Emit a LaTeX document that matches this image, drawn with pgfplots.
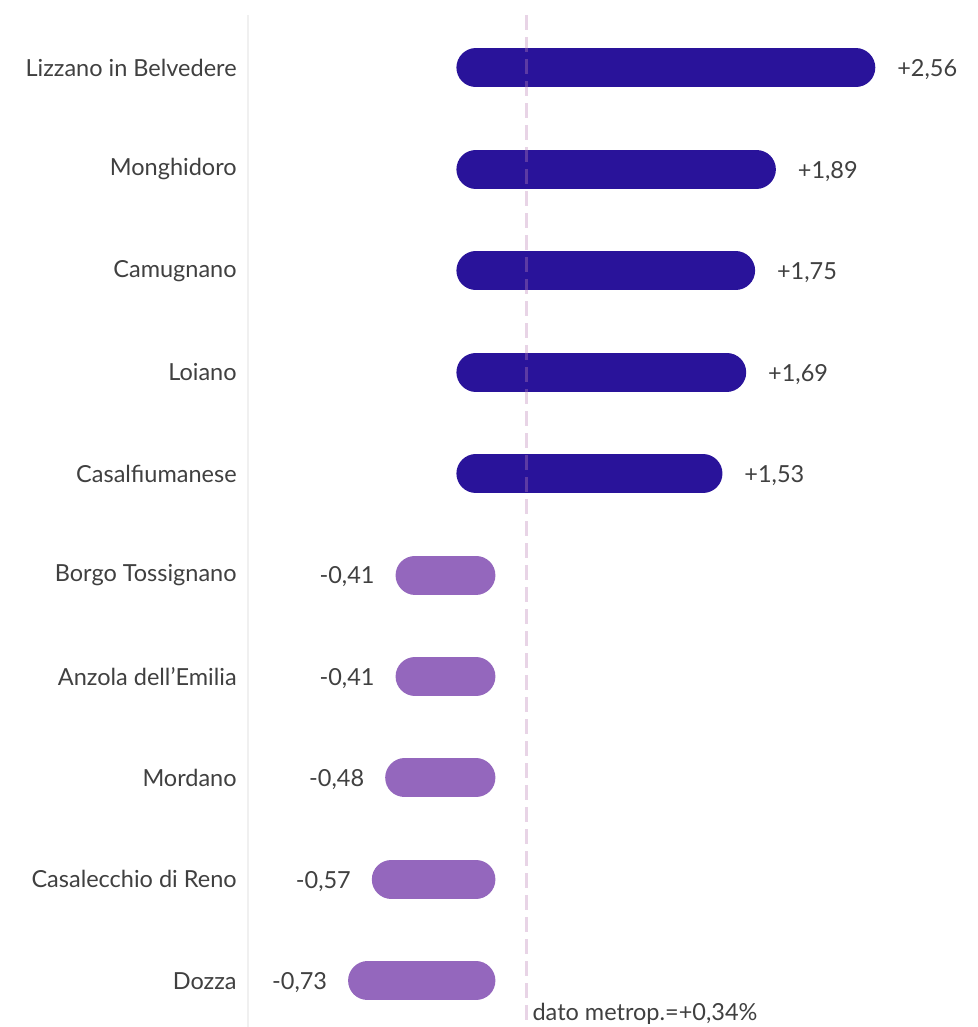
\documentclass[border=0pt]{standalone}
\usepackage{pgfplots}
\pgfplotsset{compat=1.18}
\usepackage{pgfplotstable}
\usepackage{fontspec}
\setmainfont{Lato}
\definecolor{darkbar}{HTML}{29139A}
\definecolor{lightbar}{HTML}{9467BD}
\definecolor{refline}{RGB}{189,132,183}
\definecolor{txt}{HTML}{404040}
\definecolor{axgray}{HTML}{F0F0F0}
\newcommand\lblfont{\fontsize{23.5}{28}\selectfont}
\pgfplotstableread{
x y label
2.56 1 +2,56
1.89 2 +1,89
1.75 3 +1,75
1.69 4 +1,69
1.53 5 +1,53
}\pos
\pgfplotstableread{
x y label
-0.41 6 -0,41
-0.41 7 -0,41
-0.48 8 -0,48
-0.57 9 -0,57
-0.73 10 -0,73
}\neg
\begin{document}
\begin{tikzpicture}[font=\lblfont, text=txt]
\begin{axis}[
  scale only axis,
  width=730pt, height=1012pt,
  xmin=-1.536, xmax=3.383,
  ymin=0.48, ymax=10.455,
  y dir=reverse,
  clip=false,
  axis x line=none,
  axis y line=left,
  y axis line style={draw=axgray, line width=1.5pt, -},
  xtick=\empty,
  ytick={1,2,3,4,5,6,7,8,9,10},
  yticklabels={Lizzano in Belvedere, Monghidoro, Camugnano, Loiano, Casalfiumanese, Borgo Tossignano, Anzola dell’Emilia, Mordano, Casalecchio di Reno, Dozza},
  ytick style={draw=none},
  yticklabel style={inner sep=0pt, anchor=east, xshift=-9pt, text=txt, font=\lblfont},
]
\addplot[xcomb, draw=darkbar, line width=39pt, line cap=round, mark=none,
  point meta=explicit symbolic,
  nodes near coords,
  every node near coord/.append style={anchor=west, inner sep=0pt, xshift=22pt, yshift=-2pt, text=txt, font=\lblfont}]
  table[x=x, y=y, meta=label] {\pos};
\addplot[xcomb, draw=lightbar, line width=39pt, line cap=round, mark=none,
  point meta=explicit symbolic,
  nodes near coords,
  every node near coord/.append style={anchor=east, inner sep=0pt, xshift=-21pt, yshift=-2pt, text=txt, font=\lblfont}]
  table[x=x, y=y, meta=label] {\neg};
\addplot[draw=refline, draw opacity=0.35, line width=3pt, dash pattern=on 15pt off 7pt]
  coordinates {(0.34,0.48) (0.34,10.455)};
\node[anchor=base west, inner sep=0pt, text=txt, font=\lblfont] at (axis cs:0.34,10.455) [xshift=6pt, yshift=7pt] {dato metrop.=+0,34\%};
\coordinate (ll) at (rel axis cs:0,0);
\coordinate (ur) at (rel axis cs:1,1);
\end{axis}
\pgfresetboundingbox
\path ([xshift=-248pt]ll) rectangle ([yshift=15pt]ur);
\end{tikzpicture}
\end{document}
